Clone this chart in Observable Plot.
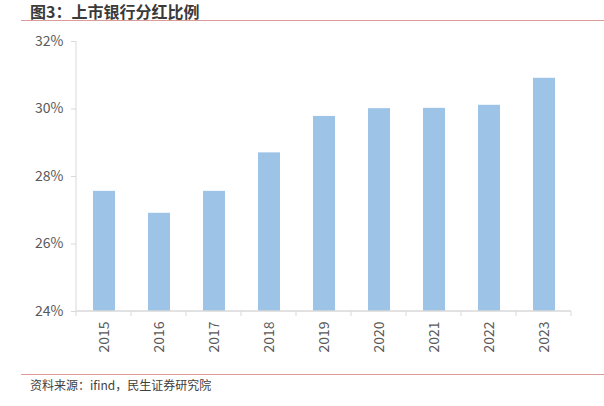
<!DOCTYPE html>
<html><head><meta charset="utf-8">
<script src="https://cdn.jsdelivr.net/npm/d3@7"></script>
<script src="https://cdn.jsdelivr.net/npm/@observablehq/plot@0.6"></script>
<style>
body{margin:0;background:#fff;font-family:"Noto Sans CJK SC","Noto Sans",sans-serif;}
#wrap{position:relative;width:604px;height:406px;}
#title{position:absolute;left:30px;top:0px;font-size:16px;font-weight:bold;color:#3a3a3a;line-height:23px;}
#tline{position:absolute;left:21px;top:20px;width:583px;height:1px;background:#dc9a98;}
#bline{position:absolute;left:21px;top:374px;width:583px;height:1px;background:#dc9a98;}
#src{position:absolute;left:30px;top:376px;font-size:12px;color:#404040;line-height:18px;}
#chart{position:absolute;left:0;top:0;}
</style></head>
<body><div id="wrap"><div id="chart"></div><div id="title">图3：上市银行分红比例</div><div id="tline"></div><div id="bline"></div><div id="src">资料来源：ifind，民生证券研究院</div></div>
<script>
const years = ["2015","2016","2017","2018","2019","2020","2021","2022","2023"];
const ratio = [27.56, 26.91, 27.56, 28.70, 29.78, 30.01, 30.02, 30.11, 30.91];
const yTicks = [24, 26, 28, 30, 32];
const data = years.map((y, i) => ({year: y, value: ratio[i]}));

const axisColor = "#d9d9d9";
function frameLines(index, scales, values, dim) {
  const g = d3.create("svg:g");
  const x0 = dim.marginLeft, x1 = dim.width - dim.marginRight;
  const yb = dim.height - dim.marginBottom, yt = dim.marginTop;
  const n = years.length, step = (x1 - x0) / n;
  g.append("line").attr("x1", x0).attr("x2", x0).attr("y1", yt).attr("y2", yb).attr("stroke", axisColor);
  g.append("line").attr("x1", x0).attr("x2", x1).attr("y1", yb).attr("y2", yb).attr("stroke", axisColor).attr("stroke-width", 1.5);
  for (let i = 0; i <= n; i++) {
    g.append("line").attr("x1", x0 + i * step).attr("x2", x0 + i * step).attr("y1", yb).attr("y2", yb + 5).attr("stroke", axisColor);
  }
  return g.node();
}

const chart = Plot.plot({
  width: 604, height: 406,
  marginLeft: 76, marginRight: 33, marginTop: 41, marginBottom: 95,
  style: {fontFamily: "'Noto Sans CJK SC','Noto Sans',sans-serif", fontSize: "14px", color: "#595959", background: "transparent"},
  x: {domain: years, paddingInner: 0.6, paddingOuter: 0.3, label: null},
  y: {domain: [24, 32], label: null},
  marks: [
    Plot.barY(data, {x: "year", y1: 24, y2: "value", fill: "#9dc3e6"}),
    Plot.axisY({ticks: yTicks, tickFormat: d => d + "%", tickSize: 5, tickPadding: 8, stroke: axisColor, fill: "#595959", fontSize: 14, label: null}),
    Plot.axisX({tickSize: 0, tickPadding: 10, tickRotate: -90, fill: "#595959", fontSize: 14, label: null}),
    frameLines
  ]
});
document.getElementById("chart").appendChild(chart);
</script></body></html>
